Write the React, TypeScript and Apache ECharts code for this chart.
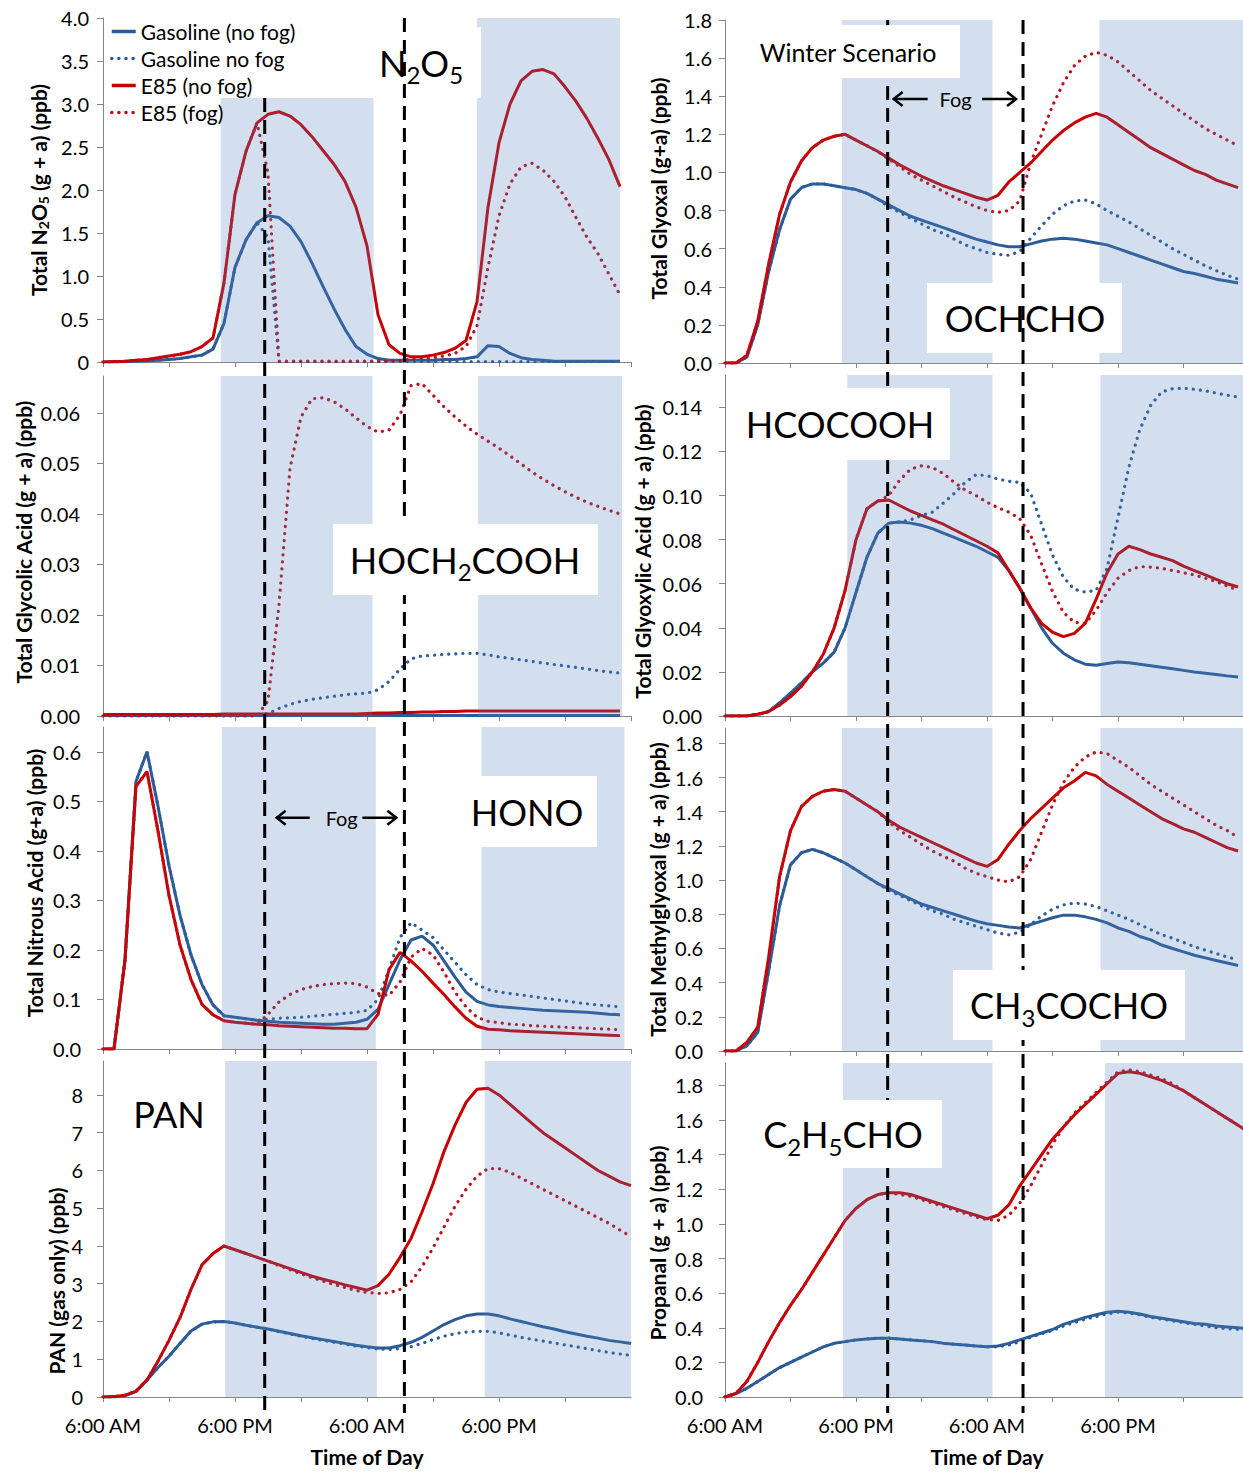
import React, { useEffect, useRef } from 'react';
import * as echarts from 'echarts';

// Time axis: hours after 6:00 AM of day 1 (one value per hour)
const TIME_LABEL_AM = '6:00 AM';
const TIME_LABEL_PM = '6:00 PM';
const SERIES_NAMES = ['Gasoline (no fog)', 'Gasoline no fog', 'E85 (no fog)', 'E85 (fog)'];

// Fog period (hours after 6:00 AM), as drawn in each column
const FOG_LEFT = [14.7, 27.4];
const FOG_RIGHT = [14.9, 27.3];

// Night-time shading (hours)
const SHADE_L1 = [[10.7, 24.6], [34, 47]];
const SHADE_L2 = [[10.7, 24.5], [34.1, 47.2]];
const SHADE_L3 = [[10.8, 24.8], [34.4, 47.4]];
const SHADE_L4 = [[11.1, 24.9], [34.7, 48]];
const SHADE_R1 = [[10.7, 24.5], [34.3, 48]];
const SHADE_R2 = [[11.2, 24.5], [34.4, 48]];
const SHADE_R3 = [[10.7, 24.5], [34.4, 48]];
const SHADE_R4 = [[10.8, 24.5], [34.8, 48]];

// ---- N2O5 (ppb)
const n2o5Gas = [0, 0, 0.005, 0.01, 0.015, 0.02, 0.03, 0.04, 0.06, 0.08,
  0.15, 0.45, 1.1, 1.42, 1.62, 1.7, 1.68, 1.58, 1.4, 1.15,
  0.88, 0.62, 0.38, 0.18, 0.09, 0.04, 0.02, 0.02, 0.02, 0.02,
  0.02, 0.03, 0.03, 0.04, 0.06, 0.19, 0.18, 0.1, 0.05, 0.03,
  0.02, 0.01, 0.01, 0.01, 0.01, 0.01, 0.01, 0.01];
const n2o5GasFog = [0, 0, 0.005, 0.01, 0.015, 0.02, 0.03, 0.04, 0.06, 0.08,
  0.15, 0.45, 1.1, 1.42, 1.62, 1.45, 0.005, 0.005, 0.005, 0.005,
  0.005, 0.005, 0.005, 0.005, 0.005, 0.005, 0.005, 0.005, 0.005, 0.005,
  0.005, 0.005, 0.005, 0.005, 0.005, 0.005, 0.005, 0.005, 0.005, 0.005,
  0.005, 0.005, 0.005, 0.005, 0.005, 0.005, 0.005, 0.005];
const n2o5E85 = [0, 0.005, 0.01, 0.02, 0.03, 0.05, 0.07, 0.09, 0.12, 0.18,
  0.28, 0.92, 1.95, 2.45, 2.78, 2.88, 2.91, 2.86, 2.76, 2.62,
  2.46, 2.3, 2.1, 1.8, 1.35, 0.55, 0.2, 0.1, 0.06, 0.06,
  0.08, 0.11, 0.16, 0.25, 0.7, 1.8, 2.55, 3.0, 3.27, 3.38,
  3.4, 3.35, 3.2, 3.03, 2.83, 2.6, 2.35, 2.04];
const n2o5E85Fog = [0, 0.005, 0.01, 0.02, 0.03, 0.05, 0.07, 0.09, 0.12, 0.18,
  0.28, 0.92, 1.95, 2.45, 2.78, 2.2, 0.01, 0.01, 0.01, 0.01,
  0.01, 0.01, 0.01, 0.01, 0.01, 0.01, 0.01, 0.02, 0.03, 0.04,
  0.05, 0.07, 0.1, 0.18, 0.42, 1.1, 1.7, 2.07, 2.27, 2.31,
  2.23, 2.1, 1.92, 1.68, 1.45, 1.26, 1.02, 0.78];

// ---- Glycolic acid (ppb)
const glycolicGas = [0.0001, 0.0001, 0.0001, 0.0001, 0.0001, 0.0001, 0.0001, 0.0001, 0.0001, 0.0001,
  0.0001, 0.0001, 0.0001, 0.0001, 0.0001, 0.0001, 0.0001, 0.0001, 0.0001, 0.0001,
  0.0001, 0.0001, 0.0001, 0.0001, 0.0001, 0.0001, 0.0001, 0.0001, 0.0001, 0.0001,
  0.0001, 0.0001, 0.0001, 0.0001, 0.0001, 0.0001, 0.0001, 0.0001, 0.0001, 0.0001,
  0.0001, 0.0001, 0.0001, 0.0001, 0.0001, 0.0001, 0.0001, 0.0001];
const glycolicGasFog = [0, 0, 0, 0, 0, 0, 0, 0, 0, 0,
  0, 0, 0, 0, 0, 0.0005, 0.0015, 0.0023, 0.0029, 0.0033,
  0.0036, 0.0039, 0.0042, 0.0044, 0.0045, 0.0052, 0.0068, 0.0093, 0.0113, 0.0119,
  0.012, 0.0122, 0.0123, 0.0124, 0.0124, 0.0121, 0.0117, 0.0114, 0.0111, 0.0108,
  0.0105, 0.0102, 0.0099, 0.0096, 0.0093, 0.009, 0.0087, 0.0085];
const glycolicE85 = [0.0003, 0.0003, 0.0003, 0.0003, 0.0003, 0.0003, 0.0003, 0.0003, 0.0003, 0.0003,
  0.0003, 0.0004, 0.0004, 0.0004, 0.0004, 0.0004, 0.0004, 0.0004, 0.0004, 0.0004,
  0.0004, 0.0004, 0.0004, 0.0004, 0.0005, 0.0006, 0.0006, 0.0007, 0.0007, 0.0008,
  0.0008, 0.0009, 0.0009, 0.001, 0.001, 0.001, 0.001, 0.001, 0.001, 0.001,
  0.001, 0.001, 0.001, 0.001, 0.001, 0.001, 0.001, 0.001];
const glycolicE85Fog = [0, 0, 0, 0, 0, 0, 0, 0, 0, 0,
  0, 0, 0, 0, 0, 0.003, 0.022, 0.049, 0.0592, 0.0628,
  0.063, 0.0622, 0.0608, 0.059, 0.0573, 0.0562, 0.0566, 0.0596, 0.0654, 0.0658,
  0.0635, 0.0612, 0.0592, 0.0574, 0.0558, 0.0544, 0.053, 0.0515, 0.0499, 0.0483,
  0.0469, 0.0456, 0.0444, 0.0433, 0.0423, 0.0415, 0.0407, 0.04];

// ---- HONO (ppb)
const honoGas = [0, 0, 0.18, 0.54, 0.6, 0.49, 0.37, 0.27, 0.19, 0.13,
  0.089, 0.067, 0.064, 0.061, 0.058, 0.056, 0.054, 0.053, 0.052, 0.051,
  0.05, 0.05, 0.052, 0.054, 0.06, 0.08, 0.13, 0.18, 0.22, 0.228,
  0.21, 0.178, 0.145, 0.115, 0.096, 0.089, 0.086, 0.084, 0.082, 0.08,
  0.078, 0.077, 0.076, 0.075, 0.074, 0.072, 0.07, 0.069];
const honoGasFog = [0, 0, 0.18, 0.54, 0.6, 0.49, 0.37, 0.27, 0.19, 0.13,
  0.089, 0.067, 0.064, 0.061, 0.058, 0.06, 0.062, 0.063, 0.064, 0.066,
  0.068, 0.07, 0.072, 0.074, 0.078, 0.1, 0.16, 0.225, 0.255, 0.24,
  0.225, 0.2, 0.175, 0.15, 0.13, 0.12, 0.115, 0.112, 0.109, 0.106,
  0.103, 0.1, 0.097, 0.094, 0.091, 0.089, 0.087, 0.085];
const honoE85 = [0, 0, 0.18, 0.53, 0.56, 0.44, 0.31, 0.21, 0.14, 0.09,
  0.069, 0.057, 0.054, 0.052, 0.05, 0.049, 0.047, 0.046, 0.045, 0.044,
  0.043, 0.042, 0.042, 0.041, 0.041, 0.07, 0.16, 0.195, 0.178, 0.157,
  0.133, 0.11, 0.085, 0.062, 0.046, 0.04, 0.039, 0.037, 0.036, 0.035,
  0.034, 0.033, 0.032, 0.031, 0.03, 0.029, 0.028, 0.027];
const honoE85Fog = [0, 0, 0.18, 0.53, 0.56, 0.44, 0.31, 0.21, 0.14, 0.09,
  0.069, 0.057, 0.054, 0.052, 0.05, 0.07, 0.095, 0.11, 0.12, 0.126,
  0.13, 0.132, 0.133, 0.132, 0.125, 0.112, 0.108, 0.135, 0.185, 0.203,
  0.19, 0.155, 0.115, 0.085, 0.064, 0.056, 0.053, 0.05, 0.049, 0.047,
  0.046, 0.045, 0.044, 0.043, 0.042, 0.041, 0.04, 0.039];

// ---- PAN (ppb)
const panGas = [0, 0, 0.03, 0.15, 0.45, 0.78, 1.08, 1.42, 1.75, 1.93,
  1.99, 2.0, 1.96, 1.9, 1.85, 1.8, 1.74, 1.68, 1.62, 1.57,
  1.52, 1.47, 1.42, 1.37, 1.33, 1.3, 1.3, 1.36, 1.45, 1.58,
  1.75, 1.92, 2.05, 2.15, 2.2, 2.2, 2.15, 2.07, 2.0, 1.93,
  1.86, 1.8, 1.73, 1.67, 1.61, 1.56, 1.5, 1.46, 1.42];
const panGasFog = [0, 0, 0.03, 0.15, 0.45, 0.78, 1.08, 1.42, 1.75, 1.93,
  1.99, 2.0, 1.96, 1.9, 1.85, 1.8, 1.73, 1.67, 1.61, 1.55,
  1.5, 1.45, 1.4, 1.35, 1.31, 1.27, 1.26, 1.28, 1.33, 1.42,
  1.52, 1.61, 1.68, 1.72, 1.74, 1.74, 1.7, 1.64, 1.58, 1.53,
  1.48, 1.43, 1.38, 1.33, 1.28, 1.23, 1.18, 1.14, 1.1];
const panE85 = [0, 0.01, 0.05, 0.15, 0.45, 0.95, 1.5, 2.1, 2.85, 3.5,
  3.8, 4.0, 3.9, 3.8, 3.7, 3.6, 3.5, 3.4, 3.3, 3.2,
  3.12, 3.05, 2.97, 2.9, 2.83, 2.95, 3.25, 3.7, 4.2, 4.9,
  5.65, 6.5, 7.2, 7.8, 8.15, 8.18, 8.0, 7.75, 7.5, 7.25,
  7.0, 6.8, 6.6, 6.4, 6.2, 6.0, 5.85, 5.7, 5.6];
const panE85Fog = [0, 0.01, 0.05, 0.15, 0.45, 0.95, 1.5, 2.1, 2.85, 3.5,
  3.8, 4.0, 3.9, 3.8, 3.7, 3.6, 3.48, 3.37, 3.26, 3.16,
  3.07, 2.98, 2.9, 2.82, 2.77, 2.74, 2.76, 2.85, 3.05, 3.45,
  3.95, 4.5, 5.05, 5.5, 5.85, 6.05, 6.05, 5.95, 5.8, 5.65,
  5.5, 5.35, 5.2, 5.05, 4.9, 4.75, 4.6, 4.42, 4.25];

// ---- Glyoxal (ppb)
const glyoxalGas = [0, 0, 0.03, 0.2, 0.48, 0.7, 0.86, 0.92, 0.94, 0.94,
  0.93, 0.92, 0.91, 0.89, 0.86, 0.83, 0.8, 0.77, 0.75, 0.73,
  0.71, 0.69, 0.67, 0.65, 0.635, 0.62, 0.61, 0.61, 0.625, 0.64,
  0.65, 0.655, 0.65, 0.64, 0.63, 0.62, 0.6, 0.58, 0.56, 0.54,
  0.52, 0.5, 0.48, 0.47, 0.455, 0.44, 0.43, 0.42];
const glyoxalGasFog = [0, 0, 0.03, 0.2, 0.48, 0.7, 0.86, 0.92, 0.94, 0.94,
  0.93, 0.92, 0.91, 0.89, 0.86, 0.82, 0.79, 0.76, 0.73, 0.7,
  0.68, 0.65, 0.62, 0.6, 0.58, 0.57, 0.565, 0.585, 0.655, 0.72,
  0.78, 0.825, 0.85, 0.855, 0.835, 0.8, 0.77, 0.74, 0.705, 0.67,
  0.635, 0.6, 0.57, 0.54, 0.51, 0.485, 0.46, 0.44];
const glyoxalE85 = [0, 0, 0.04, 0.22, 0.52, 0.78, 0.95, 1.06, 1.13, 1.17,
  1.19, 1.2, 1.17, 1.14, 1.11, 1.075, 1.04, 1.01, 0.98, 0.955,
  0.93, 0.91, 0.89, 0.87, 0.855, 0.88, 0.95, 1.0, 1.05, 1.11,
  1.17, 1.22, 1.26, 1.29, 1.31, 1.29, 1.25, 1.21, 1.17, 1.13,
  1.1, 1.07, 1.04, 1.01, 0.99, 0.96, 0.94, 0.92];
const glyoxalE85Fog = [0, 0, 0.04, 0.22, 0.52, 0.78, 0.95, 1.06, 1.13, 1.17,
  1.19, 1.2, 1.17, 1.14, 1.11, 1.07, 1.03, 0.99, 0.96, 0.93,
  0.9, 0.87, 0.845, 0.82, 0.8, 0.79, 0.8, 0.85, 1.05, 1.2,
  1.35, 1.47, 1.56, 1.61, 1.63, 1.615, 1.58, 1.53, 1.48, 1.43,
  1.39, 1.35, 1.31, 1.27, 1.23, 1.2, 1.17, 1.14];

// ---- Glyoxylic acid (ppb)
const glyoxylicGas = [0, 0, 0, 0.0008, 0.002, 0.006, 0.0104, 0.015, 0.02, 0.024,
  0.029, 0.04, 0.056, 0.072, 0.083, 0.0875, 0.088, 0.0875, 0.0865, 0.085,
  0.083, 0.081, 0.079, 0.077, 0.0745, 0.072, 0.066, 0.058, 0.049, 0.04,
  0.033, 0.0285, 0.0255, 0.0235, 0.023, 0.0238, 0.0245, 0.0242, 0.0235, 0.0228,
  0.0221, 0.0214, 0.0207, 0.02, 0.0194, 0.0188, 0.0182, 0.0177];
const glyoxylicGasFog = [0, 0, 0, 0.0008, 0.002, 0.006, 0.0104, 0.015, 0.02, 0.024,
  0.029, 0.04, 0.056, 0.072, 0.083, 0.0875, 0.088, 0.089, 0.091, 0.0925,
  0.0966, 0.101, 0.106, 0.1095, 0.109, 0.1075, 0.1065, 0.106, 0.101, 0.087,
  0.073, 0.063, 0.0575, 0.0562, 0.057, 0.067, 0.09, 0.113, 0.13, 0.141,
  0.147, 0.1485, 0.1487, 0.1482, 0.1475, 0.1465, 0.1455, 0.1447];
const glyoxylicE85 = [0, 0, 0, 0.0008, 0.002, 0.005, 0.0088, 0.0135, 0.02, 0.028,
  0.04, 0.057, 0.08, 0.094, 0.0975, 0.098, 0.0955, 0.093, 0.091, 0.089,
  0.087, 0.0845, 0.082, 0.0795, 0.077, 0.074, 0.066, 0.058, 0.049, 0.042,
  0.038, 0.036, 0.0375, 0.042, 0.053, 0.065, 0.0735, 0.077, 0.0755, 0.0735,
  0.072, 0.0705, 0.068, 0.066, 0.064, 0.062, 0.06, 0.0585];
const glyoxylicE85Fog = [0, 0, 0, 0.0008, 0.002, 0.005, 0.0088, 0.0135, 0.02, 0.028,
  0.04, 0.057, 0.08, 0.094, 0.0975, 0.1, 0.107, 0.112, 0.1135, 0.1128,
  0.11, 0.106, 0.1025, 0.1, 0.097, 0.0945, 0.0925, 0.0895, 0.082, 0.069,
  0.0565, 0.047, 0.0425, 0.042, 0.048, 0.056, 0.0625, 0.066, 0.0678, 0.0675,
  0.067, 0.066, 0.065, 0.064, 0.0625, 0.061, 0.059, 0.057];

// ---- Methylglyoxal (ppb)
const methylGas = [0, 0, 0.03, 0.11, 0.47, 0.85, 1.09, 1.16, 1.18, 1.16,
  1.13, 1.1, 1.06, 1.02, 0.98, 0.95, 0.92, 0.89, 0.86, 0.84,
  0.82, 0.8, 0.78, 0.76, 0.745, 0.735, 0.725, 0.72, 0.74, 0.76,
  0.78, 0.795, 0.795, 0.785, 0.77, 0.75, 0.72, 0.7, 0.67, 0.65,
  0.62, 0.6, 0.58, 0.56, 0.545, 0.53, 0.515, 0.5];
const methylGasFog = [0, 0, 0.03, 0.11, 0.47, 0.85, 1.09, 1.16, 1.18, 1.16,
  1.13, 1.1, 1.06, 1.02, 0.98, 0.94, 0.91, 0.88, 0.85, 0.82,
  0.8, 0.77, 0.75, 0.73, 0.71, 0.69, 0.68, 0.695, 0.74, 0.79,
  0.83, 0.855, 0.865, 0.86, 0.845, 0.82, 0.795, 0.77, 0.74, 0.71,
  0.68, 0.66, 0.635, 0.61, 0.59, 0.57, 0.55, 0.535];
const methylE85 = [0, 0, 0.05, 0.14, 0.55, 1.02, 1.29, 1.43, 1.49, 1.52,
  1.53, 1.52, 1.48, 1.44, 1.4, 1.35, 1.31, 1.28, 1.25, 1.22,
  1.19, 1.16, 1.13, 1.1, 1.08, 1.12, 1.21, 1.29, 1.36, 1.42,
  1.48, 1.54, 1.58, 1.63, 1.61, 1.56, 1.52, 1.48, 1.44, 1.4,
  1.36, 1.33, 1.3, 1.28, 1.25, 1.22, 1.19, 1.17];
const methylE85Fog = [0, 0, 0.05, 0.14, 0.55, 1.02, 1.29, 1.43, 1.49, 1.52,
  1.53, 1.52, 1.48, 1.44, 1.4, 1.34, 1.29, 1.25, 1.21, 1.17,
  1.14, 1.11, 1.07, 1.04, 1.02, 1.0, 0.99, 1.02, 1.12, 1.28,
  1.44, 1.57, 1.66, 1.72, 1.75, 1.74, 1.7, 1.66, 1.61, 1.56,
  1.52, 1.48, 1.44, 1.4, 1.36, 1.32, 1.29, 1.25];

// ---- Propanal (ppb)
const propanalGas = [0, 0.02, 0.05, 0.09, 0.13, 0.17, 0.2, 0.23, 0.26, 0.29,
  0.31, 0.32, 0.33, 0.335, 0.34, 0.34, 0.335, 0.33, 0.325, 0.32,
  0.31, 0.305, 0.3, 0.295, 0.29, 0.295, 0.31, 0.33, 0.35, 0.37,
  0.39, 0.42, 0.44, 0.46, 0.475, 0.49, 0.495, 0.49, 0.48, 0.465,
  0.455, 0.445, 0.435, 0.425, 0.42, 0.41, 0.405, 0.4, 0.395];
const propanalGasFog = [0, 0.02, 0.05, 0.09, 0.13, 0.17, 0.2, 0.23, 0.26, 0.29,
  0.31, 0.32, 0.33, 0.335, 0.34, 0.34, 0.335, 0.33, 0.325, 0.32,
  0.31, 0.305, 0.3, 0.295, 0.29, 0.29, 0.3, 0.32, 0.345, 0.365,
  0.385, 0.41, 0.43, 0.45, 0.465, 0.48, 0.49, 0.485, 0.475, 0.46,
  0.45, 0.44, 0.43, 0.42, 0.41, 0.4, 0.395, 0.39, 0.385];
const propanalE85 = [0, 0.02, 0.09, 0.2, 0.32, 0.43, 0.53, 0.62, 0.72, 0.82,
  0.92, 1.02, 1.09, 1.14, 1.17, 1.18, 1.18, 1.17, 1.15, 1.13,
  1.11, 1.09, 1.07, 1.05, 1.03, 1.05, 1.11, 1.22, 1.31, 1.4,
  1.49, 1.56, 1.63, 1.69, 1.75, 1.81, 1.87, 1.88, 1.87, 1.85,
  1.83, 1.8, 1.77, 1.73, 1.69, 1.65, 1.61, 1.57, 1.53];
const propanalE85Fog = [0, 0.02, 0.09, 0.2, 0.32, 0.43, 0.53, 0.62, 0.72, 0.82,
  0.92, 1.02, 1.09, 1.14, 1.17, 1.18, 1.17, 1.16, 1.14, 1.12,
  1.1, 1.08, 1.06, 1.04, 1.025, 1.02, 1.05, 1.12, 1.22, 1.34,
  1.46, 1.56, 1.64, 1.7, 1.76, 1.82, 1.88, 1.89, 1.88, 1.86,
  1.84, 1.81, 1.77, 1.73, 1.69, 1.65, 1.61, 1.57, 1.53];

// ---------------- styling ----------------
const FONT = 'Lato, "Open Sans", "DejaVu Sans", sans-serif';
const BLUE = '#2C5C97';
const RED = '#C80000';
const RED_DOT = '#BE0E1A';
const AXIS_GRAY = '#868686';
const SHADE = 'rgba(79,129,189,0.25)';
const TICK_FONT = 20;
const NAME_FONT = 21;

const SERIES_STYLE = [
  { color: BLUE, dotted: false },
  { color: BLUE, dotted: true },
  { color: RED, dotted: false },
  { color: RED_DOT, dotted: true },
];

type Panel = {
  grid: { left: number; top: number; width: number; height: number };
  max: number;
  interval: number;
  decimals: number;
  zeroLabel?: string;
  showMax: boolean;
  labelMargin: number;
  name: string;
  nameGap: number;
  namePad: number[];
  bottom: boolean;
  data: number[][];
  shade: number[][];
  shadeTop?: number;
};

const PANELS: Panel[] = [
  { grid: { left: 103, top: 18, width: 528, height: 344 }, max: 4, interval: 0.5, decimals: 1, zeroLabel: '0', showMax: true, labelMargin: 14,
    name: 'Total N{s|2}O{s|5} (g + a) (ppb)', nameGap: 53, namePad: [0, 0, 0, 0], bottom: false,
    data: [n2o5Gas, n2o5GasFog, n2o5E85, n2o5E85Fog], shade: SHADE_L1, shadeTop: 3.07 },
  { grid: { left: 103, top: 376, width: 528, height: 340 }, max: 0.0673, interval: 0.01, decimals: 2, showMax: false, labelMargin: 23,
    name: 'Total Glycolic Acid (g + a) (ppb)', nameGap: 69, namePad: [0, 0, 0, 8], bottom: false,
    data: [glycolicGas, glycolicGasFog, glycolicE85, glycolicE85Fog], shade: SHADE_L2 },
  { grid: { left: 103, top: 727, width: 528, height: 322 }, max: 0.65, interval: 0.1, decimals: 1, showMax: false, labelMargin: 22,
    name: 'Total Nitrous Acid (g+a) (ppb)', nameGap: 58, namePad: [0, 0, 0, 10], bottom: false,
    data: [honoGas, honoGasFog, honoE85, honoE85Fog], shade: SHADE_L3 },
  { grid: { left: 103, top: 1061, width: 528, height: 336 }, max: 8.9, interval: 1, decimals: 0, showMax: false, labelMargin: 20,
    name: 'PAN (gas only) (ppb)', nameGap: 36, namePad: [0, 104, 0, 0], bottom: true,
    data: [panGas, panGasFog, panE85, panE85Fog], shade: SHADE_L4 },
  { grid: { left: 725, top: 20, width: 524, height: 343 }, max: 1.8, interval: 0.2, decimals: 1, showMax: true, labelMargin: 13,
    name: 'Total Glyoxal (g+a) (ppb)', nameGap: 56, namePad: [0, 0, 0, 6], bottom: false,
    data: [glyoxalGas, glyoxalGasFog, glyoxalE85, glyoxalE85Fog], shade: SHADE_R1 },
  { grid: { left: 725, top: 375, width: 524, height: 341 }, max: 0.1547, interval: 0.02, decimals: 2, showMax: false, labelMargin: 23,
    name: 'Total Glyoxylic Acid (g + a) (ppb)', nameGap: 72, namePad: [0, 12, 0, 0], bottom: false,
    data: [glyoxylicGas, glyoxylicGasFog, glyoxylicE85, glyoxylicE85Fog], shade: SHADE_R2 },
  { grid: { left: 725, top: 728, width: 524, height: 323 }, max: 1.89, interval: 0.2, decimals: 1, showMax: false, labelMargin: 22,
    name: 'Total Methylglyoxal (g + a) (ppb)', nameGap: 57, namePad: [0, 0, 0, 0], bottom: false,
    data: [methylGas, methylGasFog, methylE85, methylE85Fog], shade: SHADE_R3 },
  { grid: { left: 725, top: 1063, width: 524, height: 334 }, max: 1.93, interval: 0.2, decimals: 1, showMax: false, labelMargin: 22,
    name: 'Propanal (g + a) (ppb)', nameGap: 57, namePad: [0, 26, 0, 0], bottom: true,
    data: [propanalGas, propanalGasFog, propanalE85, propanalE85Fog], shade: SHADE_R4 },
];

// Annotation boxes (white label boxes); cx = text centre
const LABEL_BOXES = [
  { text: 'N{s|2}O{s|5}', x: 377, y: 27, w: 104, h: 71, cx: 421, size: 36, z: 6 },
  { text: 'Winter Scenario', x: 745, y: 25, w: 215, h: 53, cx: 848, size: 25, z: 9 },
  { text: 'OCHCHO', x: 927, y: 283, w: 195, h: 70, cx: 1025, size: 36, z: 6 },
  { text: 'HOCH{s|2}COOH', x: 333, y: 524, w: 265, h: 71, cx: 465, size: 36, z: 9 },
  { text: 'HCOCOOH', x: 735, y: 388, w: 215, h: 72, cx: 840, size: 36, z: 9 },
  { text: 'HONO', x: 463, y: 776, w: 134, h: 71, cx: 527, size: 36, z: 9 },
  { text: 'CH{s|3}COCHO', x: 953, y: 970, w: 232, h: 70, cx: 1069, size: 36, z: 9 },
  { text: 'PAN', x: 118, y: 1083, w: 102, h: 62, cx: 169, size: 36, z: 9 },
  { text: 'C{s|2}H{s|5}CHO', x: 755, y: 1100, w: 187, h: 68, cx: 843, size: 36, z: 9 },
];

function timeLabel(v: number): string {
  if (v % 24 === 0) return TIME_LABEL_AM;
  if (v % 24 === 12) return TIME_LABEL_PM;
  return '';
}

function buildOption(): any {
  const grids: any[] = [];
  const xAxes: any[] = [];
  const yAxes: any[] = [];
  const series: any[] = [];

  PANELS.forEach((p, i) => {
    grids.push({ ...p.grid, show: false, containLabel: false });
    xAxes.push({
      type: 'value', gridIndex: i, min: 0, max: 48, interval: 6,
      axisLine: { show: true, onZero: false, lineStyle: { color: AXIS_GRAY, width: 1 } },
      axisTick: { show: true, length: 5, lineStyle: { color: AXIS_GRAY } },
      splitLine: { show: false },
      axisLabel: {
        show: p.bottom, margin: 18, fontSize: TICK_FONT, fontFamily: FONT, color: '#000',
        formatter: timeLabel, showMaxLabel: false, showMinLabel: true,
      },
      name: p.bottom ? 'Time of Day' : '',
      nameLocation: 'middle', nameGap: 49,
      nameTextStyle: { fontSize: 21, fontWeight: 'bold', fontFamily: FONT, color: '#000' },
    });
    yAxes.push({
      type: 'value', gridIndex: i, min: 0, max: p.max, interval: p.interval,
      axisLine: { show: true, lineStyle: { color: AXIS_GRAY, width: 1 } },
      axisTick: { show: true, length: 6, lineStyle: { color: AXIS_GRAY } },
      splitLine: { show: false },
      axisLabel: {
        margin: p.labelMargin, fontSize: TICK_FONT, fontFamily: FONT, color: '#000', showMaxLabel: p.showMax,
        formatter: (v: number) => (v === 0 && p.zeroLabel ? p.zeroLabel : v.toFixed(p.decimals)),
      },
      name: p.name, nameLocation: 'middle', nameGap: p.nameGap, nameRotate: 90,
      nameTextStyle: {
        fontSize: NAME_FONT, fontWeight: 'bold', fontFamily: FONT, color: '#000', padding: p.namePad,
        rich: { s: { fontSize: 14, fontWeight: 'bold', fontFamily: FONT, color: '#000', padding: [9, 0, 0, 0] } },
      },
    });
    const areas = p.shade.map((r, k) =>
      k === 0 && p.shadeTop != null
        ? [{ xAxis: r[0], yAxis: p.shadeTop }, { xAxis: r[1], yAxis: 0 }]
        : [{ xAxis: r[0] }, { xAxis: r[1] }]
    );
    p.data.forEach((vals, k) => {
      const st = SERIES_STYLE[k];
      const s: any = {
        type: 'line', name: SERIES_NAMES[k], xAxisIndex: i, yAxisIndex: i,
        data: vals.map((v, h) => [h, v]),
        symbol: 'none', showSymbol: false, silent: true, z: 3,
        lineStyle: st.dotted
          ? { color: st.color, width: 3.2, type: [0.1, 7], cap: 'round' }
          : { color: st.color, width: 3 },
        itemStyle: { color: st.color },
      };
      if (k === 0) {
        s.markArea = { silent: true, z: 5, itemStyle: { color: SHADE }, label: { show: false }, data: areas };
      }
      series.push(s);
    });
  });

  return {
    animation: false,
    backgroundColor: '#fff',
    textStyle: { fontFamily: FONT },
    grid: grids,
    xAxis: xAxes,
    yAxis: yAxes,
    legend: {
      data: SERIES_NAMES, orient: 'vertical', left: 105, top: 16, z: 20,
      itemWidth: 24, itemHeight: 14, itemGap: 6, selectedMode: false,
      itemStyle: { opacity: 0 },
      lineStyle: { width: 3.5 },
      textStyle: { fontSize: 21, fontFamily: FONT, color: '#000' },
    },
    series,
  };
}

function arrow(x1: number, x2: number, y: number): any[] {
  // arrow head at x1, tail at x2
  const dir = x2 > x1 ? 1 : -1;
  return [
    { type: 'line', z: 10, silent: true, shape: { x1, y1: y, x2, y2: y }, style: { stroke: '#000', lineWidth: 2.5 } },
    { type: 'polyline', z: 10, silent: true, shape: { points: [[x1 + 9 * dir, y - 7], [x1, y], [x1 + 9 * dir, y + 7]] },
      style: { stroke: '#000', lineWidth: 2.5, fill: 'none' } },
  ];
}

export default function App() {
  const ref = useRef<HTMLDivElement>(null);
  useEffect(() => {
    if (!ref.current) return;
    const chart = echarts.init(ref.current, undefined, { renderer: 'svg' });
    chart.setOption(buildOption());

    const px = (idx: number, v: number) => chart.convertToPixel({ xAxisIndex: idx } as any, v) as unknown as number;
    const py = (idx: number, v: number) => chart.convertToPixel({ yAxisIndex: idx } as any, v) as unknown as number;

    const xL1 = px(0, FOG_LEFT[0]);
    const xL2 = px(0, FOG_LEFT[1]);
    const xR1 = px(4, FOG_RIGHT[0]);
    const xR2 = px(4, FOG_RIGHT[1]);
    const bottomL = py(3, 0) + 16;
    const bottomR = py(7, 0) + 16;
    const dashStyle = { stroke: '#000', lineWidth: 3, lineDash: [14, 8] };
    const g: any[] = [
      { type: 'line', z: 8, silent: true, shape: { x1: xL1, y1: py(0, 3.07), x2: xL1, y2: bottomL }, style: dashStyle },
      { type: 'line', z: 8, silent: true, shape: { x1: xL2, y1: py(0, 4), x2: xL2, y2: bottomL }, style: dashStyle },
      { type: 'line', z: 8, silent: true, shape: { x1: xR1, y1: py(4, 1.8), x2: xR1, y2: bottomR }, style: dashStyle },
      { type: 'line', z: 8, silent: true, shape: { x1: xR2, y1: py(4, 1.8), x2: xR2, y2: bottomR }, style: dashStyle },
    ];

    LABEL_BOXES.forEach((b) => {
      g.push({ type: 'rect', z: b.z, silent: true, shape: { x: b.x, y: b.y, width: b.w, height: b.h }, style: { fill: '#fff' } });
      g.push({
        type: 'text', z: b.z + 1, silent: true, x: b.cx, y: b.y + b.h / 2,
        style: {
          text: b.text, fontSize: b.size, fontFamily: FONT, fill: '#000', align: 'center', verticalAlign: 'middle',
          rich: { s: { fontSize: 24, fontFamily: FONT, fill: '#000', padding: [24, 0, 0, 0] } },
        },
      });
    });

    // Fog arrows: right column (glyoxal panel) and left column (HONO panel)
    const yR = py(4, 1.385);
    g.push(...arrow(xR1 + 6, xR1 + 40, yR));
    g.push({ type: 'text', z: 10, silent: true, x: xR1 + 68, y: yR,
      style: { text: 'Fog', fontSize: 20, fontFamily: FONT, fill: '#000', align: 'center', verticalAlign: 'middle' } });
    g.push(...arrow(xR2 - 7, xR2 - 41, yR));
    const yL = py(2, 0.467);
    g.push(...arrow(xL1 + 12, xL1 + 45, yL));
    g.push({ type: 'text', z: 10, silent: true, x: xL1 + 77, y: yL,
      style: { text: 'Fog', fontSize: 20, fontFamily: FONT, fill: '#000', align: 'center', verticalAlign: 'middle' } });
    g.push(...arrow(xL2 - 8, xL2 - 42, yL));

    chart.setOption({ graphic: g });
    return () => chart.dispose();
  }, []);

  return (
    <div style={{ position: 'fixed', left: 0, top: 0, width: 1243, height: 1473, overflow: 'hidden', background: '#fff' }}>
      <div ref={ref} style={{ width: 1262, height: 1473 }} />
    </div>
  );
}
